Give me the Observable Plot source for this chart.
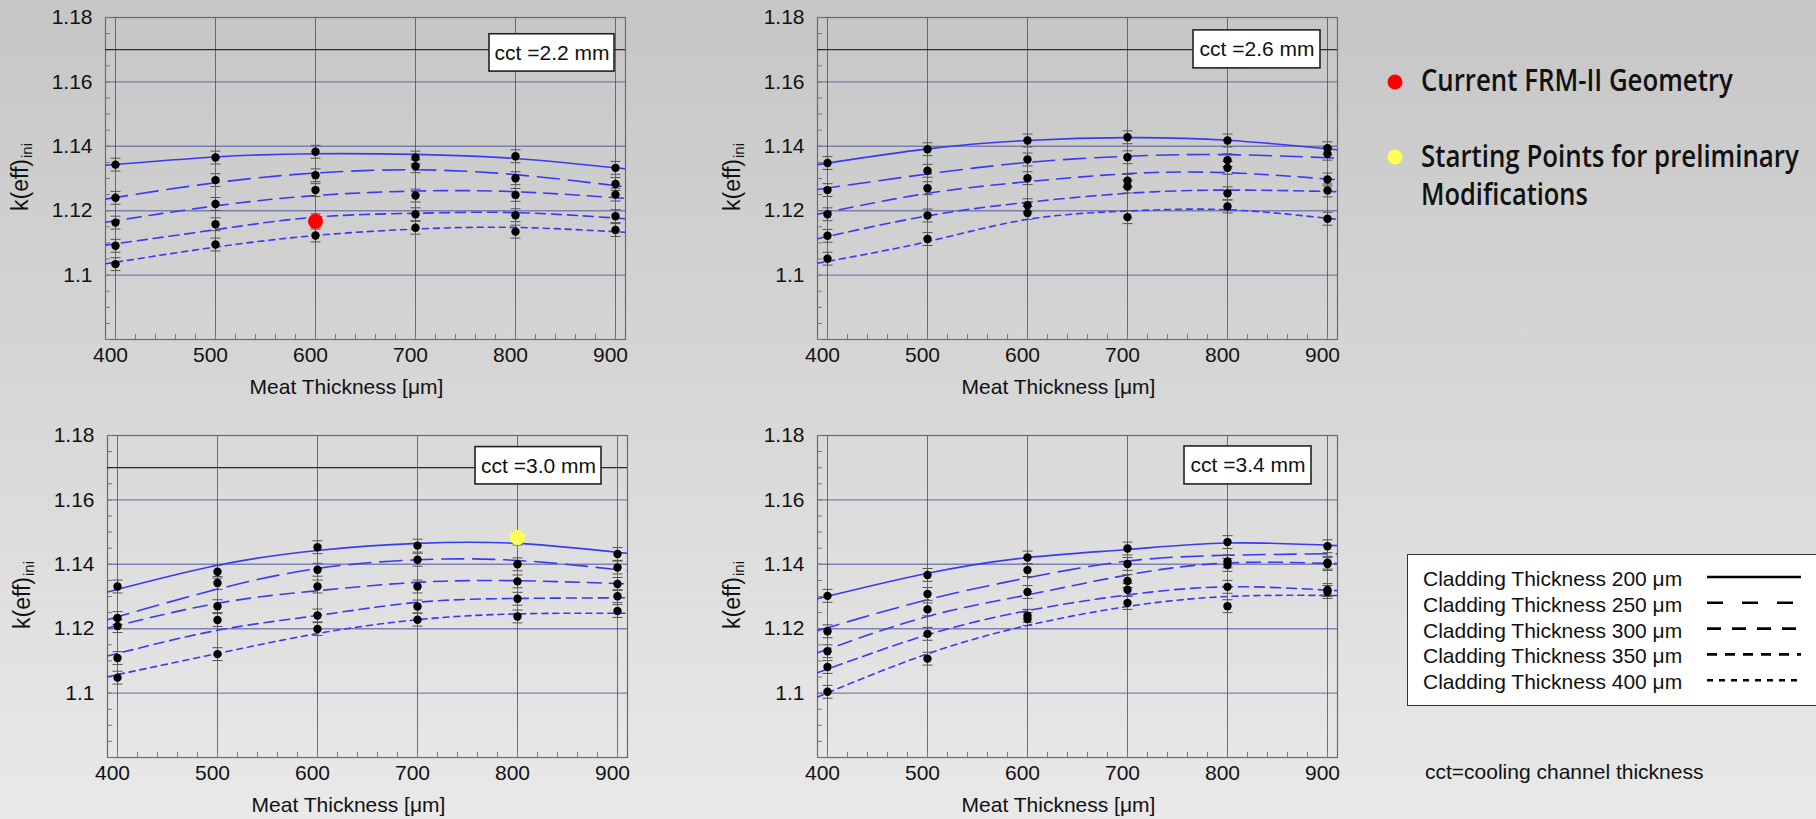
<!DOCTYPE html>
<html>
<head>
<meta charset="utf-8">
<script src="https://cdn.jsdelivr.net/npm/d3@7"></script>
<script src="https://cdn.jsdelivr.net/npm/@observablehq/plot@0.6"></script>
<style>
  html, body { margin: 0; padding: 0; }
  body {
    width: 1816px; height: 819px; overflow: hidden; position: relative;
    background: linear-gradient(#c6c6c6, #e9e9e9);
    font-family: "Liberation Sans", Arial, sans-serif; color: #111;
  }
  .panel { position: absolute; }
  .panel svg { overflow: visible; }
  .ylab {
    position: absolute; transform: translate(-50%, -50%) rotate(-90deg);
    font-size: 23px; white-space: nowrap; line-height: 1;
  }
  .ylab sub { font-size: 15px; vertical-align: -4px; margin-left: 1px; }
  #legend {
    position: absolute; left: 1407px; top: 554px; width: 420px; height: 152px;
    background: #fff; border: 1.5px solid #333; box-sizing: border-box;
  }
  #caption { position: absolute; left: 1425px; top: 760px; font-size: 21px; }
</style>
</head>
<body>
<div id="root"></div>
<script>
// ---------------- data ----------------
const meatThickness = [400, 500, 600, 700, 800, 900];          // µm
const claddingThickness = [200, 250, 300, 350, 400];           // µm
const cctLabels = ["2.2", "2.6", "3.0", "3.4"];                // mm
const fitX = [390, 500, 600, 700, 800, 910];                   // µm, where fit curves were read
const keffErr = 0.002;                                         // half error bar
const yTicks = [1.10, 1.12, 1.14, 1.16, 1.18];
const referenceK = 1.17;                                       // black reference line

// k(eff) points: rows = cladding 200..400, columns = meat 400..900
const pts22 = [
  [1.1343, 1.1365, 1.1383, 1.1365, 1.1369, 1.1333],
  [1.1240, 1.1295, 1.1310, 1.1338, 1.1301, 1.1283],
  [1.1163, 1.1221, 1.1264, 1.1247, 1.1249, 1.1250],
  [1.1091, 1.1158, 1.1170, 1.1189, 1.1186, 1.1183],
  [1.1034, 1.1095, 1.1123, 1.1147, 1.1135, 1.1140]
];
const pts26 = [
  [1.1348, 1.1391, 1.1418, 1.1428, 1.1418, 1.1394],
  [1.1264, 1.1324, 1.1359, 1.1366, 1.1357, 1.1377],
  [1.1189, 1.1270, 1.1301, 1.1293, 1.1333, 1.1297],
  [1.1122, 1.1185, 1.1217, 1.1275, 1.1254, 1.1263],
  [1.1051, 1.1112, 1.1193, 1.1180, 1.1213, 1.1175]
];
const pts30 = [
  [1.1331, 1.1377, 1.1453, 1.1458, 1.1480, 1.1432],
  [1.1233, 1.1342, 1.1383, 1.1414, 1.1400, 1.1390],
  [1.1208, 1.1270, 1.1331, 1.1331, 1.1347, 1.1339],
  [1.1109, 1.1227, 1.1241, 1.1269, 1.1293, 1.1301],
  [1.1048, 1.1121, 1.1199, 1.1228, 1.1238, 1.1255]
];
const pts34 = [
  [1.1302, 1.1367, 1.1421, 1.1449, 1.1469, 1.1456],
  [1.1192, 1.1308, 1.1382, 1.1401, 1.1409, 1.1405],
  [1.1130, 1.1260, 1.1314, 1.1348, 1.1398, 1.1401],
  [1.1081, 1.1184, 1.1240, 1.1321, 1.1330, 1.1320],
  [1.1004, 1.1107, 1.1230, 1.1280, 1.1270, 1.1314]
];

// fitted curves, read at fitX: rows = cladding 200..400
const fit22 = [
  [1.1341, 1.1367, 1.1377, 1.1375, 1.1362, 1.1330],
  [1.1236, 1.1287, 1.1317, 1.1327, 1.1312, 1.1274],
  [1.1164, 1.1215, 1.1247, 1.1261, 1.1259, 1.1238],
  [1.1093, 1.1141, 1.1180, 1.1192, 1.1194, 1.1175],
  [1.1035, 1.1087, 1.1123, 1.1143, 1.1148, 1.1133]
];
const fit26 = [
  [1.1343, 1.1392, 1.1418, 1.1427, 1.1419, 1.1389],
  [1.1266, 1.1314, 1.1350, 1.1369, 1.1374, 1.1363],
  [1.1189, 1.1254, 1.1290, 1.1315, 1.1318, 1.1296],
  [1.1113, 1.1184, 1.1226, 1.1254, 1.1264, 1.1259],
  [1.1037, 1.1104, 1.1173, 1.1199, 1.1203, 1.1173]
];
const fit30 = [
  [1.1314, 1.1397, 1.1443, 1.1465, 1.1465, 1.1434],
  [1.1228, 1.1323, 1.1387, 1.1414, 1.1412, 1.1380],
  [1.1202, 1.1279, 1.1318, 1.1344, 1.1349, 1.1339],
  [1.1115, 1.1195, 1.1241, 1.1282, 1.1294, 1.1296],
  [1.1051, 1.1123, 1.1185, 1.1228, 1.1246, 1.1248]
];
const fit34 = [
  [1.1293, 1.1372, 1.1421, 1.1446, 1.1466, 1.1458],
  [1.1194, 1.1290, 1.1358, 1.1410, 1.1428, 1.1433],
  [1.1125, 1.1238, 1.1305, 1.1367, 1.1404, 1.1402],
  [1.1063, 1.1181, 1.1256, 1.1305, 1.1330, 1.1318],
  [1.0988, 1.1122, 1.1210, 1.1269, 1.1300, 1.1303]
];

// highlighted points
const currentGeometry = [{cct: "2.2", meat: 600, k: 1.1167}];
const startingPoints  = [{cct: "3.0", meat: 800, k: 1.1483}];

// ---------------- styles / layout ----------------
const curveBlue = "#3a3af5";
const dashes = {200: null, 250: "22,9", 300: "14,8", 350: "10,6", 400: "6,5"};
const legendDashes = {200: null, 250: "16,19", 300: "14,11", 350: "10,8", 400: "6,6"};
const panels = [
  {cct: "2.2", pts: pts22, fit: fit22, ref: true,  left: 0,   top: 0,   box: [774, 899, 1.1632, 1.1748]},
  {cct: "2.6", pts: pts26, fit: fit26, ref: true,  left: 712, top: 0,   box: [766, 893, 1.1642, 1.1760]},
  {cct: "3.0", pts: pts30, fit: fit30, ref: true,  left: 2,   top: 418, box: [758, 884, 1.1648, 1.1764]},
  {cct: "3.4", pts: pts34, fit: fit34, ref: false, left: 712, top: 418, box: [757, 884, 1.1648, 1.1766]}
];

const capSymbol = {draw(ctx, size) { const w = 5; ctx.moveTo(-w, 0); ctx.lineTo(w, 0); }};

const root = document.getElementById("root");

for (const p of panels) {
  const pointRows = claddingThickness.flatMap((c, ci) =>
    meatThickness.map((m, mi) => ({c, meat: m, k: p.pts[ci][mi]})));
  const fitRows = claddingThickness.map((c, ci) =>
    fitX.map((m, mi) => ({c, meat: m, k: p.fit[ci][mi]})));
  const [bx1, bx2, by1, by2] = p.box;

  const marks = [
    Plot.gridY([1.10, 1.12, 1.14, 1.16], {stroke: "#6e6ea8", strokeOpacity: 0.85, strokeWidth: 1.4}),
    Plot.gridX(meatThickness, {stroke: "#3c3ca0", strokeOpacity: 0.75, strokeWidth: 1}),
    Plot.frame({stroke: "#6a6a6a", strokeWidth: 1.2}),
    Plot.axisX(d3.range(400, 901, 20), {anchor: "bottom", tickSize: -5, text: null, label: null, stroke: "#777"}),
    Plot.axisY(d3.range(1.08, 1.1801, 0.005), {anchor: "left", tickSize: -5, text: null, label: null, stroke: "#777"}),
    Plot.axisX(meatThickness, {anchor: "bottom", tickSize: 0, tickPadding: 8, dx: -5, fontSize: 21, label: null}),
    Plot.axisY(yTicks, {anchor: "left", tickSize: 0, tickPadding: 13, fontSize: 21, label: null,
      tickFormat: d => String(+d.toFixed(2))}),
    Plot.text(["Meat Thickness [μm]"], {frameAnchor: "bottom", dy: 54, dx: -19, fontSize: 21, fill: "#111"})
  ];
  if (p.ref) marks.push(Plot.ruleY([referenceK], {stroke: "#2a2a2a", strokeWidth: 1.3}));
  fitRows.forEach((rows, ci) => {
    marks.push(Plot.line(rows, {x: "meat", y: "k", curve: "natural", stroke: curveBlue,
      strokeWidth: 1.6, strokeDasharray: dashes[claddingThickness[ci]], clip: true}));
  });
  marks.push(
    Plot.ruleX(pointRows, {x: "meat", y1: d => d.k - keffErr, y2: d => d.k + keffErr, stroke: "#555", strokeWidth: 1}),
    Plot.dot(pointRows, {x: "meat", y: d => d.k - keffErr, symbol: capSymbol, stroke: "#555", strokeWidth: 1}),
    Plot.dot(pointRows, {x: "meat", y: d => d.k + keffErr, symbol: capSymbol, stroke: "#555", strokeWidth: 1}),
    Plot.dot(pointRows, {x: "meat", y: "k", r: 4.2, fill: "#000"}),
    Plot.dot(currentGeometry.filter(d => d.cct === p.cct), {x: "meat", y: "k", r: 7.5, fill: "#ff0000"}),
    Plot.dot(startingPoints.filter(d => d.cct === p.cct), {x: "meat", y: "k", r: 7.5, fill: "#ffff55"}),
    Plot.rect([p.cct], {x1: bx1, x2: bx2, y1: by1, y2: by2, fill: "#fff", stroke: "#222", strokeWidth: 1.6}),
    Plot.text([p.cct], {x: (bx1 + bx2) / 2, y: (by1 + by2) / 2, text: d => `cct =${d} mm`, fontSize: 21, fill: "#111"})
  );

  const chart = Plot.plot({
    width: 645, height: 409,
    marginLeft: 105, marginRight: 20, marginTop: 17, marginBottom: 70,
    style: {background: "transparent", fontFamily: "'Liberation Sans', Arial, sans-serif", color: "#111", overflow: "visible"},
    x: {domain: [390, 910]},
    y: {domain: [1.08, 1.18]},
    marks
  });
  const wrap = document.createElement("div");
  wrap.className = "panel";
  wrap.style.left = p.left + "px";
  wrap.style.top = p.top + "px";
  wrap.appendChild(chart);
  root.appendChild(wrap);

  const yl = document.createElement("div");
  yl.className = "ylab";
  yl.style.left = (p.left + 21) + "px";
  yl.style.top = (p.top + 177) + "px";
  yl.innerHTML = "k(eff)<sub>ini</sub>";
  root.appendChild(yl);
}

// ---------------- top-right legend ----------------
const NS = "http://www.w3.org/2000/svg";
const leg = document.createElementNS(NS, "svg");
leg.setAttribute("width", 1816); leg.setAttribute("height", 819);
leg.style.position = "absolute"; leg.style.left = "0"; leg.style.top = "0"; leg.style.pointerEvents = "none";
document.body.appendChild(leg);
const markerItems = [
  {color: "#ff0000", cy: 82, lines: [{t: "Current FRM-II Geometry", y: 91, w: 312}]},
  {color: "#ffff55", cy: 157, lines: [{t: "Starting Points for preliminary", y: 167, w: 378}, {t: "Modifications", y: 205, w: 167}]}
];
for (const it of markerItems) {
  const c = document.createElementNS(NS, "circle");
  c.setAttribute("cx", 1395); c.setAttribute("cy", it.cy); c.setAttribute("r", 7.5); c.setAttribute("fill", it.color);
  leg.appendChild(c);
  for (const l of it.lines) {
    const t = document.createElementNS(NS, "text");
    t.setAttribute("x", 0); t.setAttribute("y", 0);
    t.setAttribute("font-family", "'Open Sans', 'Noto Sans', sans-serif");
    t.setAttribute("font-size", 30); t.setAttribute("font-weight", 600);
    t.setAttribute("fill", "#111");
    t.textContent = l.t;
    leg.appendChild(t);
    const natural = t.getComputedTextLength() || l.w;
    t.setAttribute("transform", `translate(1421,${l.y}) scale(${l.w / natural},1)`);
  }
}

// ---------------- line-style legend ----------------
const box = document.createElement("div");
box.id = "legend";
const bsvg = document.createElementNS(NS, "svg");
bsvg.setAttribute("width", 420); bsvg.setAttribute("height", 150);
claddingThickness.forEach((c, i) => {
  const cy = 24 + i * 25.8;
  const t = document.createElementNS(NS, "text");
  t.setAttribute("x", 15); t.setAttribute("y", cy + 7);
  t.setAttribute("font-family", "'Liberation Sans', Arial, sans-serif");
  t.setAttribute("font-size", 21); t.setAttribute("fill", "#111");
  t.textContent = `Cladding Thickness ${c} μm`;
  bsvg.appendChild(t);
  const ln = document.createElementNS(NS, "line");
  ln.setAttribute("x1", 299); ln.setAttribute("x2", 393);
  ln.setAttribute("y1", cy - 2); ln.setAttribute("y2", cy - 2);
  ln.setAttribute("stroke", "#000"); ln.setAttribute("stroke-width", 2.6);
  if (legendDashes[c]) ln.setAttribute("stroke-dasharray", legendDashes[c]);
  bsvg.appendChild(ln);
});
box.appendChild(bsvg);
document.body.appendChild(box);

const cap = document.createElement("div");
cap.id = "caption";
cap.textContent = "cct=cooling channel thickness";
document.body.appendChild(cap);
</script>
</body>
</html>
